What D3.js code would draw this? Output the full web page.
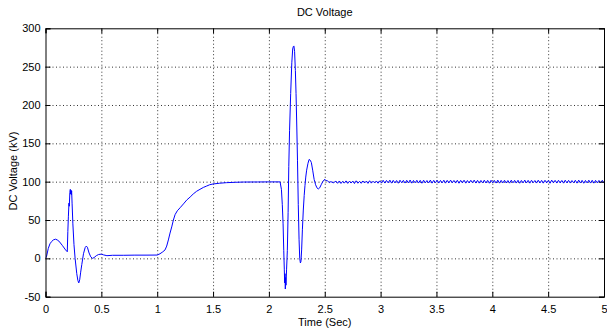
<!DOCTYPE html>
<html>
<head>
<meta charset="utf-8">
<script src="https://cdn.jsdelivr.net/npm/d3@7/dist/d3.min.js"></script>
<style>
  body { margin: 0; background: #fff; }
  text { font-family: "Liberation Sans Narrow", "Arial Narrow", "Liberation Sans", Arial, sans-serif; fill: #000; }
  .grid line { stroke: #333; stroke-dasharray: 1,2.5; }
  .grid path { display: none; }
  .axis path, .axis line { stroke: #000; }
</style>
</head>
<body>
<svg width="607" height="330"></svg>
<script>
// transient part of the DC voltage trace (s, kV)
const timeS = [0, 0.01, 0.025, 0.04, 0.055, 0.07, 0.09, 0.105, 0.12, 0.15, 0.18, 0.195,
  0.2, 0.205, 0.21, 0.213, 0.218, 0.222, 0.225, 0.228, 0.231, 0.234, 0.238, 0.245, 0.255,
  0.265, 0.28, 0.29, 0.298, 0.306, 0.315, 0.325, 0.34, 0.355, 0.365, 0.375, 0.39, 0.405,
  0.42, 0.435, 0.455, 0.475, 0.5, 0.52, 0.55, 0.6, 0.7, 0.8, 0.9, 1.0, 1.025, 1.05, 1.07,
  1.085, 1.1, 1.115, 1.13, 1.145, 1.16, 1.18, 1.205, 1.235, 1.264, 1.295, 1.323, 1.353,
  1.383, 1.413, 1.443, 1.47, 1.5, 1.56, 1.62, 1.7, 1.77, 1.9, 2.0, 2.1,
  2.112, 2.12, 2.127, 2.133, 2.138, 2.141, 2.144, 2.147, 2.15, 2.153, 2.158, 2.165, 2.172,
  2.178, 2.185, 2.195, 2.205, 2.213, 2.218, 2.224, 2.23, 2.237, 2.243, 2.25, 2.256, 2.263,
  2.27, 2.276, 2.282, 2.287, 2.293, 2.3, 2.308, 2.316, 2.323, 2.33, 2.338, 2.35, 2.36,
  2.37, 2.38, 2.392, 2.405, 2.418, 2.43, 2.442, 2.455, 2.468, 2.48, 2.492, 2.502, 2.512,
  2.525, 2.54, 2.555, 2.577];
const voltageKV = [0, 3, 13, 19, 22, 24, 25, 24, 22.5, 17, 11, 8.6,
  35, 55, 72, 68, 86, 90, 84, 89, 83, 88, 72, 45, 18,
  0, -20, -29, -32, -28, -18, -8, 6, 14, 16, 14.5, 7, 2,
  0, 1, 3.5, 5, 5.5, 4.5, 3.5, 4, 4, 4.2, 4.2, 4.3, 6, 8.5, 11,
  16, 24, 33, 41, 50, 57, 62, 66, 71, 76, 80, 84, 87.5,
  90, 92.5, 94.3, 96, 97, 98, 98.7, 99.2, 99.5, 99.6, 99.7, 99.7,
  90, 70, 45, 10, -15, -32, -20, -40, -25, -35, -15, 10, 60,
  120, 167, 215, 255, 273, 276, 277, 270, 245, 215, 170, 128, 70,
  25, 0, -6, -4, 11, 38, 63, 82, 95, 106, 115, 124, 129,
  128, 125, 115, 103, 96, 92, 90.5, 92, 96, 99.5, 102, 103, 101.5,
  101, 99, 100, 98.6];

// steady-state ripple from 2.6 s to 5 s (kV)
const rippleStartS = 2.6;
const rippleKV = [100.6, 97.9, 100.9, 97.7, 100.5, 98.1, 101.0, 97.8, 100.6, 98.2, 100.8, 97.6,
  101.1, 98.0, 100.4, 97.9, 100.9, 98.3, 100.7, 97.8, 101.2, 98.1, 100.6, 98.4, 100.9, 98.0, 101.0,
  98.4, 101.8, 98.2, 101.6, 98.5, 102.0, 98.1, 101.7, 98.4, 101.5, 98.0, 101.9, 98.6, 101.7, 98.2,
  101.8, 98.3, 102.1, 98.1, 101.6, 98.5, 101.8, 98.2, 101.7, 98.0, 101.9, 98.4, 101.5, 98.3, 102.0,
  98.1, 101.7, 98.5, 101.8, 98.2, 101.6, 98.4, 101.9, 98.1, 101.7, 98.3, 102.0, 98.5, 101.6, 98.2,
  101.8, 98.0, 101.7, 98.4, 101.9, 98.1, 101.5, 98.3, 101.8, 98.6, 102.0, 98.2, 101.7, 98.1, 101.6,
  98.4, 101.9, 98.3, 101.7, 98.0, 101.8, 98.5, 101.6, 98.2, 102.0, 98.1, 101.7, 98.4, 101.8, 98.3,
  101.5, 98.1, 101.9, 98.5, 101.7, 98.2, 101.8, 98.0, 101.6, 98.4, 102.0, 98.3, 101.7, 98.1, 101.8,
  98.6, 101.5, 98.2, 101.9, 98.3, 101.7, 98.1, 101.8, 98.4, 101.6, 98.0, 102.0, 98.5, 101.7, 98.2,
  101.8, 98.3, 101.6, 98.1, 101.9, 98.4, 101.7, 98.2, 101.5, 98.5, 101.8, 98.1, 102.0, 98.3, 101.7,
  98.0, 101.6, 98.4, 101.9, 98.2, 101.8, 98.1, 101.7, 98.5, 101.6, 98.3, 101.8, 98.2];

const xTicks = [0, 0.5, 1, 1.5, 2, 2.5, 3, 3.5, 4, 4.5, 5];
const yTicks = [-50, 0, 50, 100, 150, 200, 250, 300];

const svg = d3.select('svg');
const padL = 45.5, padR = 604, padT = 28.3, padB = 296.7;
const w = padR - padL, h = padB - padT;

const x = d3.scaleLinear().domain([0, 5]).range([padL, padR]);
const y = d3.scaleLinear().domain([-50, 300]).range([padB, padT]);

svg.append('rect').attr('width', 607).attr('height', 330).attr('fill', '#fff');

// dotted grid
svg.append('g').attr('class', 'grid')
  .attr('transform', `translate(0,${padB})`)
  .call(d3.axisBottom(x).tickValues(xTicks.slice(1, -1)).tickSize(-h).tickFormat(''));
svg.append('g').attr('class', 'grid')
  .attr('transform', `translate(${padL},0)`)
  .call(d3.axisLeft(y).tickValues(yTicks.slice(1, -1)).tickSize(-w).tickFormat(''));

// data line
const step = (5 - rippleStartS) / (rippleKV.length - 1);
const pts = timeS.map((t, i) => [t, voltageKV[i]])
  .concat(rippleKV.map((v, i) => [rippleStartS + i * step, v]));

svg.append('clipPath').attr('id', 'clip')
  .append('rect').attr('x', padL).attr('y', padT).attr('width', w).attr('height', h);

svg.append('path')
  .datum(pts)
  .attr('clip-path', 'url(#clip)')
  .attr('fill', 'none')
  .attr('stroke', '#0000ff')
  .attr('stroke-width', 1)
  .attr('d', d3.line().x(d => x(d[0])).y(d => y(d[1])));

// axes with inward ticks on all sides
const fmt = d => String(d);
svg.append('g').attr('class', 'axis')
  .attr('transform', `translate(0,${padB})`)
  .call(d3.axisBottom(x).tickValues(xTicks).tickSize(-5).tickPadding(9).tickFormat(fmt));
svg.append('g').attr('class', 'axis')
  .attr('transform', `translate(0,${padT})`)
  .call(d3.axisTop(x).tickValues(xTicks).tickSize(-5).tickFormat(''));
svg.append('g').attr('class', 'axis')
  .attr('transform', `translate(${padL},0)`)
  .call(d3.axisLeft(y).tickValues(yTicks).tickSize(-5).tickPadding(5).tickFormat(fmt));
svg.append('g').attr('class', 'axis')
  .attr('transform', `translate(${padR},0)`)
  .call(d3.axisRight(y).tickValues(yTicks).tickSize(-5).tickFormat(''));

svg.selectAll('.axis').attr('font-family', null).attr('font-size', 11);

// titles
svg.append('text').attr('x', (padL + padR) / 2).attr('y', 16)
  .attr('text-anchor', 'middle').attr('font-size', 11).text('DC Voltage');
svg.append('text').attr('x', (padL + padR) / 2).attr('y', 326)
  .attr('text-anchor', 'middle').attr('font-size', 11).text('Time (Sec)');
svg.append('text')
  .attr('transform', 'translate(17,171) rotate(-90)')
  .attr('text-anchor', 'middle').attr('font-size', 11).text('DC Voltage (kV)');
</script>
</body>
</html>
